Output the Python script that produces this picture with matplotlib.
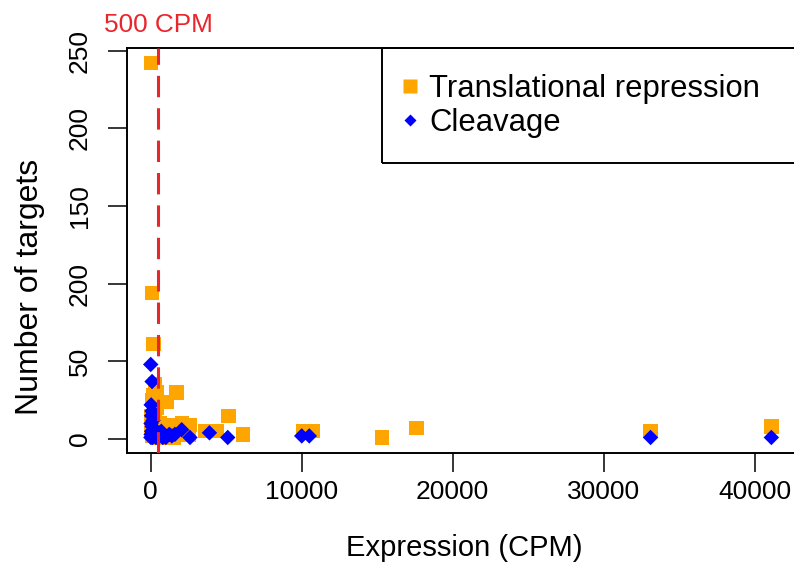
import matplotlib
matplotlib.use("Agg")
import matplotlib.pyplot as plt
from matplotlib.patches import Rectangle
from matplotlib.lines import Line2D

plt.rcParams['font.family'] = ['Liberation Sans', 'DejaVu Sans']

# ---- data ----
tr_expr = [30, 90, 170, 285, 420, 1720, 1060, 100, 400, 50, 300, 600, 150,
           1280, 2075, 2600, 1480, 2500, 5140, 3600, 4400, 6100, 10130, 10700,
           15300, 17600, 33100, 41100, 200, 800, 1200, 100, 500, 1500, 250, 60]
tr_targets = [242, 94, 61, 35, 30, 30, 24, 25, 20, 15, 12, 10, 28,
              9, 10, 9, 3, 3, 15, 5, 5, 3, 5, 5,
              1, 7, 5, 8, 8, 5, 3, 2, 1, 1, 18, 6]

cl_expr = [0, 90, 30, 80, 50, 150, 20, 100, 250, 60, 400, 30, 200, 600, 800,
           1230, 1600, 2050, 2600, 3890, 5100, 10000, 10500, 33100, 41100,
           1000, 350, 120, 500, 10, 700, 1400]
cl_targets = [48, 37, 22, 18, 15, 12, 10, 8, 6, 5, 4, 3, 2, 2, 1,
              3, 3, 6, 1, 4, 1, 2, 2, 1, 1,
              1, 1, 1, 3, 1, 5, 2]

threshold = 500
yticks = [0, 50, 100, 150, 200, 250]
ytick_labels = ['0', '50', '200', '150', '200', '250']
xticks = [0, 10000, 20000, 30000, 40000]
xtick_labels = ['0', '10000', '20000', '30000', '40000']

W, H = 794, 575
fig = plt.figure(figsize=(W / 100, H / 100), dpi=100)
ax = fig.add_axes([126.5 / W, (H - 452.7) / H, (W - 126.5) / W + 0.001, (452.7 - 48) / H])

orange = '#FFA500'
blue = '#0000FF'
red = '#E8262B'

ax.scatter(tr_expr, tr_targets, marker='s', s=108, color=orange, edgecolors='none', zorder=3, clip_on=False)
ax.scatter(cl_expr, cl_targets, marker='D', s=62, color=blue, edgecolors='none', zorder=4, clip_on=False)
ax.axvline(threshold, color=red, lw=2.2, dashes=(7.0, 3.6), zorder=5)

ax.set_xlim(-1604, 42651)
ax.set_ylim(-8.8, 251.7)
ax.set_xticks(xticks)
ax.set_xticklabels(xtick_labels)
ax.set_yticks(yticks)
ax.set_yticklabels(ytick_labels)

for s in ax.spines.values():
    s.set_linewidth(1.4)
ax.tick_params(axis='both', direction='out', length=14, width=1.1, labelsize=19)
ax.tick_params(axis='x', pad=6)
ax.tick_params(axis='y', pad=11, labelrotation=90)
for lab in ax.get_yticklabels():
    lab.set_va('center')

fig.text(464 / W, 1 - 548 / H, 'Expression (CPM)', fontsize=21, ha='center', va='center')
fig.text(30 / W, 1 - 287 / H, 'Number of targets', fontsize=23, ha='center', va='center', rotation=90)
fig.text(104 / W, 1 - 31.7 / H, '500 CPM', fontsize=18.8, color=red, ha='left', va='baseline')

# legend frame
fig.patches.append(Rectangle((382 / W, 1 - 162.7 / H), (430) / W, (162.7 - 48) / H,
                             transform=fig.transFigure, fill=False, edgecolor='black', lw=1.4, zorder=10))
handles = [Line2D([], [], marker='s', color=orange, ls='none', markersize=10, markeredgecolor='none'),
           Line2D([], [], marker='D', color=blue, ls='none', markersize=6.6, markeredgecolor='none')]
leg = fig.legend(handles, ['Translational repression', 'Cleavage'], loc='upper left',
                 bbox_to_anchor=(394.5 / W, 1 - 74 / H), frameon=False, fontsize=22.3,
                 handlelength=1.0, handletextpad=0.11, labelspacing=0.14, borderpad=0, borderaxespad=0)

fig.savefig('out.png', dpi=100)
